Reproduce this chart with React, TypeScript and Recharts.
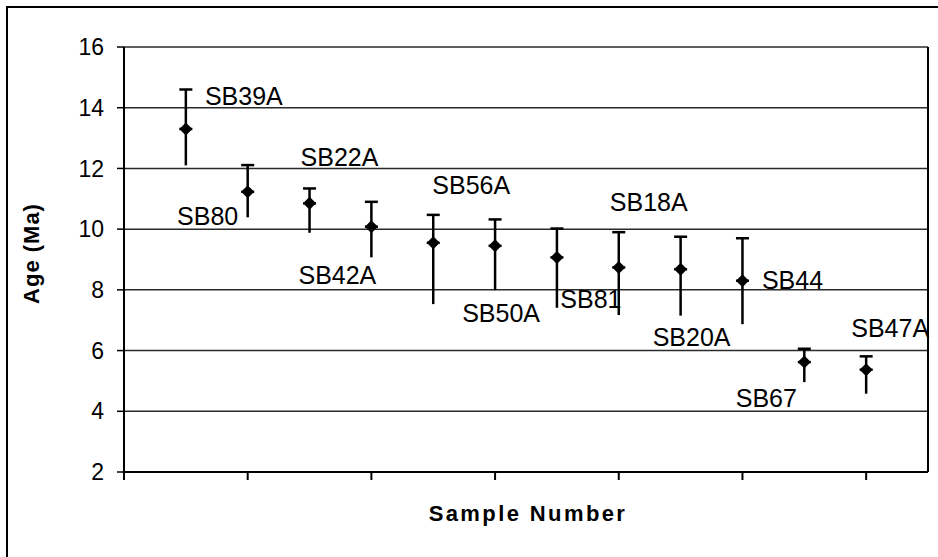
import {
  ScatterChart,
  Scatter,
  XAxis,
  YAxis,
  CartesianGrid,
  ErrorBar,
  LabelList,
  Label,
  ReferenceLine,
} from "recharts";

const sampleIds = [
  "SB39A", "SB80", "SB22A", "SB42A", "SB56A", "SB50A",
  "SB81", "SB18A", "SB20A", "SB44", "SB67", "SB47A",
];
const sampleNumbers = [1, 2, 3, 4, 5, 6, 7, 8, 9, 10, 11, 12];
const ages = [13.3, 11.23, 10.85, 10.08, 9.55, 9.45, 9.07, 8.74, 8.68, 8.3, 5.62, 5.37];
const errPlus = [1.3, 0.88, 0.49, 0.82, 0.92, 0.87, 0.95, 1.16, 1.07, 1.4, 0.44, 0.44];
const errMinus = [1.2, 0.84, 0.97, 1.01, 2.02, 1.46, 1.66, 1.57, 1.53, 1.43, 0.66, 0.79];

const yTicks = [2, 4, 6, 8, 10, 12, 14, 16];
const xTicks = [0, 2, 4, 6, 8, 10, 12];

// where each sample label sits relative to its point (px, text centre)
const labelOffsets: [number, number][] = [
  [58, -33], [-40, 24], [30, -46], [-34, 48], [38, -58], [6, 67],
  [34, 42], [30, -65], [11, 68], [50, -1], [-38, 36], [24, -42],
];

const data = sampleIds.map((id, i) => ({
  id,
  x: sampleNumbers[i],
  age: ages[i],
  up: [0, errPlus[i]],
  down: [errMinus[i], 0],
}));

const FONT = '"Liberation Sans", Arial, sans-serif';

const Diamond = (props: any) => {
  const { cx, cy } = props;
  const r = 6.5;
  return (
    <polygon
      points={`${cx},${cy - r} ${cx + r},${cy} ${cx},${cy + r} ${cx - r},${cy}`}
      fill="#000"
    />
  );
};

const renderSampleLabel = (props: any) => {
  const { x, y, width, height, index, value } = props;
  const cx = Number(x) + (Number(width) || 0) / 2;
  const cy = Number(y) + (Number(height) || 0) / 2;
  const [dx, dy] = labelOffsets[index] ?? [0, 0];
  return (
    <text
      x={cx + dx}
      y={cy + dy}
      textAnchor="middle"
      dominantBaseline="central"
      fontFamily={FONT}
      fontSize={25}
      fill="#000"
    >
      {value}
    </text>
  );
};

const renderYTitle = (props: any) => {
  const vb = props.viewBox || { y: 47, height: 425 };
  const cx = 31;
  const cy = vb.y + vb.height / 2 - 6;
  return (
    <text
      x={cx}
      y={cy}
      transform={`rotate(-90 ${cx} ${cy})`}
      textAnchor="middle"
      dominantBaseline="central"
      fontFamily={FONT}
      fontWeight="bold"
      fontSize={22}
      letterSpacing={1}
      fill="#000"
    >
      Age (Ma)
    </text>
  );
};

const renderXTitle = (props: any) => {
  const vb = props.viewBox || { x: 124, width: 804 };
  return (
    <text
      x={vb.x + vb.width / 2 + 2}
      y={513}
      textAnchor="middle"
      dominantBaseline="central"
      fontFamily={FONT}
      fontWeight="bold"
      fontSize={22}
      letterSpacing={2.4}
      fill="#000"
    >
      Sample Number
    </text>
  );
};

export default function App() {
  return (
    <div
      style={{
        position: "absolute",
        left: 0,
        top: 0,
        width: 938,
        height: 557,
        background: "#fff",
        overflow: "hidden",
      }}
    >
      <div
        style={{
          position: "absolute",
          left: 6,
          top: 6,
          width: 950,
          height: 570,
          borderTop: "2px solid #000",
          borderLeft: "2px solid #000",
        }}
      />
      <ScatterChart
        width={938}
        height={557}
        margin={{ top: 47, right: 10, bottom: 0, left: 0 }}
        style={{ position: "absolute", left: 0, top: 0 }}
      >
        <CartesianGrid horizontal vertical={false} stroke="#2a2a2a" strokeWidth={1.5} />
        <XAxis
          type="number"
          dataKey="x"
          domain={[0, 13]}
          ticks={xTicks}
          tickFormatter={() => ""}
          height={85}
          tickSize={8}
          axisLine={{ stroke: "#000", strokeWidth: 2 }}
          tickLine={{ stroke: "#000", strokeWidth: 2 }}
        >
          <Label content={renderXTitle} />
        </XAxis>
        <YAxis
          type="number"
          dataKey="age"
          domain={[2, 16]}
          ticks={yTicks}
          width={124}
          tickSize={7}
          tickMargin={13}
          axisLine={{ stroke: "#000", strokeWidth: 2 }}
          tickLine={{ stroke: "#000", strokeWidth: 1.5 }}
          tick={{ fill: "#000", fontSize: 23, fontFamily: FONT }}
        >
          <Label content={renderYTitle} />
        </YAxis>
        <ReferenceLine x={13} stroke="#000" strokeWidth={2} />
        <Scatter data={data} shape={<Diamond />} isAnimationActive={false}>
          <ErrorBar dataKey="down" direction="y" width={0} stroke="#000" strokeWidth={2.5} />
          <ErrorBar dataKey="up" direction="y" width={6.5} stroke="#000" strokeWidth={2.5} />
          <LabelList dataKey="id" content={renderSampleLabel} />
        </Scatter>
      </ScatterChart>
    </div>
  );
}
